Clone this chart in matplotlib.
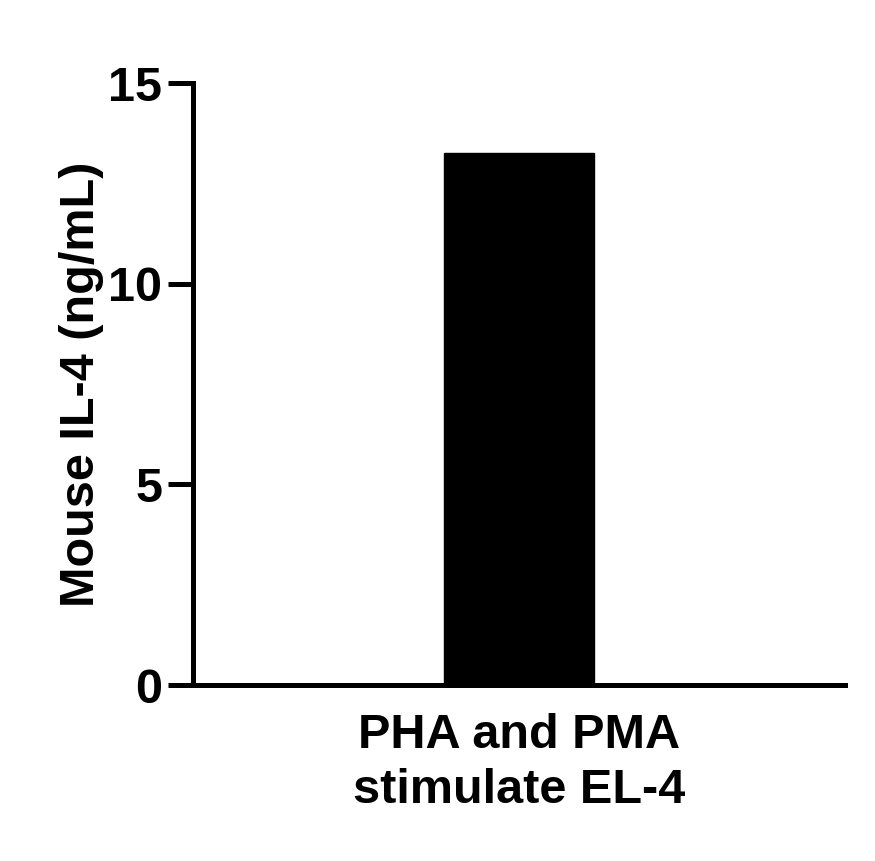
import numpy as np
from matplotlib import pyplot as plt

categories = ["PHA and PMA\nstimulate EL-4"]
values = [13.25]

plt.rcParams['font.family'] = ['Liberation Sans', 'DejaVu Sans']
plt.rcParams['font.weight'] = 'bold'

fig = plt.figure(figsize=(8.75, 8.61), dpi=100)
ax = fig.add_axes([0.2206, 0.2044, 0.745, 0.699])

x = np.arange(len(categories))
ax.bar(x, values, width=0.463, color='black', edgecolor='black')

ax.set_xlim(-1, 1)
ax.set_ylim(0, 15)
ax.set_yticks([0, 5, 10, 15])
ax.set_xticks(x)
ax.set_xticklabels(categories, fontsize=35, fontweight='bold', linespacing=1.3)
ax.tick_params(axis='x', length=0, pad=20)
ax.tick_params(axis='y', length=18, width=3.6, labelsize=35, pad=4)
for lab in ax.get_yticklabels():
    lab.set_fontweight('bold')

ax.set_ylabel("Mouse IL-4 (ng/mL)", fontsize=35, fontweight='bold', labelpad=3)

for s in ['top', 'right']:
    ax.spines[s].set_visible(False)
for s in ['left', 'bottom']:
    ax.spines[s].set_linewidth(3.6)

fig.savefig("out.png", dpi=100)
